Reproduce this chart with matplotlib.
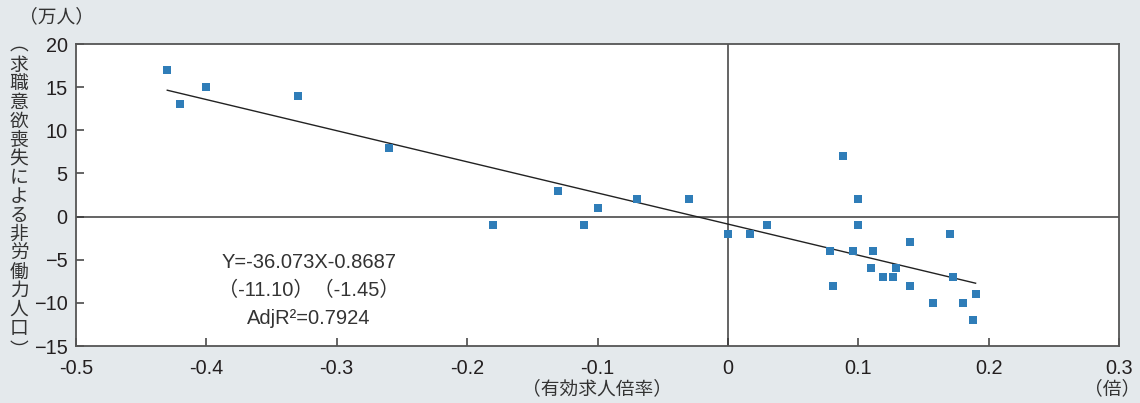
import numpy as np
import matplotlib.pyplot as plt

# 有効求人倍率 (x) と 求職意欲喪失による非労働力人口 (y, 万人)
x_vals = [-0.43, -0.42, -0.40, -0.33, -0.26,
          -0.18, -0.13, -0.11, -0.10, -0.07, -0.03, 0.0, 0.017, 0.03,
          0.088, 0.10, 0.10, 0.078, 0.096, 0.111, 0.14, 0.17,
          0.11, 0.129, 0.119, 0.127, 0.173, 0.081, 0.14,
          0.157, 0.18, 0.19, 0.188]
y_vals = [17, 13, 15, 14, 8,
          -1, 3, -1, 1, 2, 2, -2, -2, -1,
          7, 2, -1, -4, -4, -4, -3, -2,
          -6, -6, -7, -7, -7, -8, -8,
          -10, -10, -9, -12]

slope = -36.073
intercept = -0.8687
t_slope, t_icpt = -11.10, -1.45
adj_r2 = 0.7924

xticks = [-0.5, -0.4, -0.3, -0.2, -0.1, 0, 0.1, 0.2, 0.3]
xtick_labels = ["-0.5", "-0.4", "-0.3", "-0.2", "-0.1", "0", "0.1", "0.2", "0.3"]
yticks = [-15, -10, -5, 0, 5, 10, 15, 20]

ylabel_body = list("求職意欲喪失による非労働力人口")

BG = "#e4e9ec"
BLUE = "#2f7db8"
DARK = "#3a3a3a"
TXT = "#333333"
FONT = ["Liberation Sans", "Noto Sans CJK JP", "DejaVu Sans"]
CJK = ["Noto Sans CJK JP", "DejaVu Sans"]

plt.rcParams["font.family"] = FONT

W, H = 1140, 403
fig = plt.figure(figsize=(W / 100, H / 100), dpi=100, facecolor=BG)
ax = fig.add_axes([76 / W, 1 - 346 / H, (1119 - 76) / W, (346 - 44) / H])
ax.set_facecolor("white")

ax.axhline(0, color=DARK, lw=1.1, zorder=1)
ax.axvline(0, color=DARK, lw=1.1, zorder=1)

# regression line over the data range
xs = np.array([min(x_vals), max(x_vals)])
ax.plot(xs, slope * xs + intercept, color="#222222", lw=1.0, zorder=2)
ax.scatter(x_vals, y_vals, marker="s", s=30, color=BLUE, linewidths=0, zorder=3)

ax.set_xlim(-0.5, 0.3)
ax.set_ylim(-15, 20)
ax.set_xticks(xticks)
ax.set_xticklabels(xtick_labels)
ax.set_yticks(yticks)
ax.tick_params(direction="in", length=6, width=1.1, color=DARK,
               labelsize=14.3, labelcolor="#231f20")
ax.tick_params(axis="x", pad=9)
ax.tick_params(axis="y", pad=6)
for s in ax.spines.values():
    s.set_color("#555555")
    s.set_linewidth(1.3)

eq = (f"Y={slope:.3f}X{intercept:.4f}\n"
      f"（{t_slope:.2f}）（{t_icpt:.2f}）\n"
      f"AdjR²={adj_r2:.4f}")
ax.text(-0.3215, -8.6, eq, ha="center", va="center", fontsize=14.5,
        color=TXT, linespacing=1.6, family=FONT)

# vertical y-axis label, one character per row
fs_cjk = 13.5
fig.text(19 / W, 1 - 44 / H, "︵", ha="center", va="center",
         fontsize=fs_cjk, color=TXT, family=CJK)
for i, ch in enumerate(ylabel_body):
    fig.text(19 / W, 1 - (65 + i * 18.8) / H, ch, ha="center", va="center",
             fontsize=fs_cjk, color=TXT, family=CJK)
fig.text(19 / W, 1 - 350 / H, "︶", ha="center", va="center",
         fontsize=fs_cjk, color=TXT, family=CJK)

fig.text(56 / W, 1 - 17 / H, "（万人）", ha="center", va="center",
         fontsize=fs_cjk, color=TXT, family=CJK)
fig.text(597 / W, 1 - 389 / H, "（有効求人倍率）", ha="center", va="center",
         fontsize=fs_cjk, color=TXT, family=CJK)
fig.text(1112 / W, 1 - 389 / H, "（倍）", ha="center", va="center",
         fontsize=fs_cjk, color=TXT, family=CJK)

fig.savefig("out.png", dpi=100, facecolor=BG)
